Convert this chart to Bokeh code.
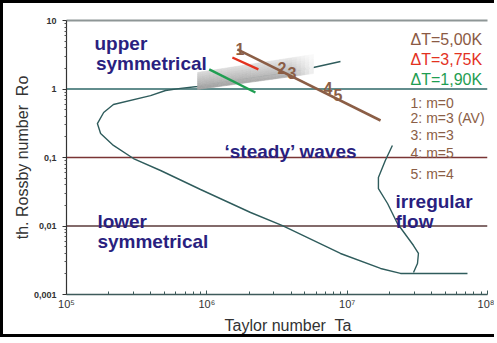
import numpy as np
from bokeh.plotting import figure
from bokeh.models import Span, Label, LogAxis, FixedTicker
from bokeh.embed import file_html
from bokeh.resources import INLINE

# ---- data ----
main_ta = [8.96e6, 5.75e6, 2.22e6, 8.58e5, 6.49e5, 5.08e5, 3.97e5, 2.16e5, 1.84e5,
           1.66e5, 1.75e5, 2.16e5, 3.00e5, 4.68e5, 9.02e5, 2.05e6, 3.46e6, 8.96e6,
           1.73e7, 2.40e7, 7.20e7]
main_ro = [2.52, 2.06, 1.47, 1.09, 1.02, 0.95, 0.80, 0.594, 0.454,
           0.313, 0.224, 0.150, 0.0966, 0.0646, 0.0341, 0.01574, 0.01016, 0.00397,
           0.00240, 0.00203, 0.00203]
irr_ta = [2.10e7, 1.87e7, 1.67e7, 1.67e7, 1.94e7, 2.28e7, 2.97e7, 3.22e7, 3.17e7, 2.97e7]
irr_ro = [0.150, 0.0904, 0.0511, 0.0352, 0.0213, 0.01087, 0.00519, 0.00397, 0.00284, 0.00209]

dt5_ta = [1.65e6, 1.73e7]
dt5_ro = [3.78, 0.347]
dt375_ta = [1.52e6, 2.33e6]
dt375_ro = [2.88, 1.93]
dt19_ta = [1.04e6, 2.22e6]
dt19_ro = [1.93, 0.889]

regime_bounds = [1.0, 0.1, 0.01]
regime_colors = ["#2e6767", "#7a3434", "#5a3a3a"]

wedge_ta = [8.59e5, 5.75e6, 5.75e6, 8.59e5]     # TL, TR, BR, BL
wedge_ro = [1.742, 3.19, 1.683, 0.984]

x_tick_values = [1e5, 1e6, 1e7, 1e8]
x_tick_labels = ["10\u2075", "10\u2076", "10\u2077", "10\u2078"]
y_tick_values = [0.001, 0.01, 0.1, 1, 10]
y_tick_labels = ["0,001", "0,01", "0,1", "1", "10"]

legend_dt = ["\u0394T=5,00K", "\u0394T=3,75K", "\u0394T=1,90K"]
legend_dt_colors = ["#8b5a44", "#e3321f", "#1f9e52"]
legend_modes = ["1: m=0", "2: m=3 (AV)", "3: m=3", "4: m=5", "5: m=4"]

BROWN = "#8b5e46"
NAVY = "#2a1f7f"
FONT = "Liberation Sans"

W, H = 494, 337
p = figure(width=W, height=H, x_axis_type="log", y_axis_type="log",
           x_range=(1e5, 1e8), y_range=(1e-3, 10),
           output_backend="svg", toolbar_location=None,
           min_border_left=63, min_border_right=10, min_border_top=17, min_border_bottom=46)
p.styles = {"border-top": "3px solid black", "border-left": "3px solid black",
            "border-bottom": "3px solid black", "border-right": "none"}
p.outline_line_color = None
p.xgrid.visible = False
p.ygrid.visible = False
p.background_fill_color = "white"
p.border_fill_color = "white"

# axes
xminor = [k * 10.0 ** e for e in range(5, 8) for k in range(2, 10)]
yminor = [k * 10.0 ** e for e in range(-3, 1) for k in range(2, 10)]
p.xaxis.ticker = FixedTicker(ticks=x_tick_values, minor_ticks=xminor)
p.yaxis.ticker = FixedTicker(ticks=y_tick_values, minor_ticks=yminor)
p.xaxis.major_label_overrides = dict(zip(x_tick_values, x_tick_labels))
p.yaxis.major_label_overrides = dict(zip(y_tick_values, y_tick_labels))

ax = p.xaxis[0]
ax.axis_line_color = "#3d5a5a"
ax.axis_line_width = 1.3
ax.major_tick_line_color = "#3d5a5a"
ax.minor_tick_line_color = "#3d5a5a"
ax.major_tick_in = 4
ax.major_tick_out = 0
ax.minor_tick_in = 3
ax.minor_tick_out = 0
ax.major_label_standoff = 3
ax.major_label_text_font = FONT
ax.major_label_text_font_size = "11px"
ax.major_label_text_color = "#333333"
ax.axis_label = "\u00a0" * 5 + "Taylor number\u00a0 Ta"
ax.axis_label_text_font = FONT
ax.axis_label_text_font_size = "16px"
ax.axis_label_text_font_style = "normal"
ax.axis_label_text_color = "#333333"
ax.axis_label_standoff = 4

ay = p.yaxis[0]
ay.axis_line_color = "#333333"
ay.axis_line_width = 1.2
ay.major_tick_line_color = "#333333"
ay.minor_tick_line_color = "#555555"
ay.major_tick_in = 0
ay.major_tick_out = 4
ay.minor_tick_in = 0
ay.minor_tick_out = 2
ay.major_label_standoff = 6
ay.major_label_text_font = FONT
ay.major_label_text_font_size = "9px"
ay.major_label_text_font_style = "bold"
ay.major_label_text_color = "#333333"
ay.axis_label = "th. Rossby number\u00a0 Ro"
ay.axis_label_text_font = FONT
ay.axis_label_text_font_size = "16px"
ay.axis_label_text_font_style = "normal"
ay.axis_label_text_color = "#333333"
ay.axis_label_standoff = 0

top = LogAxis(ticker=FixedTicker(ticks=[]), axis_line_color="#8e9696", axis_line_width=2.2)
p.add_layout(top, "above")

# regime boundaries
for b, c in zip(regime_bounds, regime_colors):
    p.add_layout(Span(location=b, dimension="width", line_color=c, line_width=1.3, level="underlay"))

# curves
p.line(main_ta, main_ro, line_color="#2f5c5c", line_width=1.4)
p.line(irr_ta, irr_ro, line_color="#2f5c5c", line_width=1.4)

# grey wedge with a shaded gradient
L = np.log10(np.array(wedge_ta))
M = np.log10(np.array(wedge_ro))
nu, nv = 28, 8
xs, ys, cols = [], [], []
def pt(u, v):
    tx = L[0] + (L[1] - L[0]) * u
    ty = M[0] + (M[1] - M[0]) * u
    bx = L[3] + (L[2] - L[3]) * u
    by = M[3] + (M[2] - M[3]) * u
    return tx + (bx - tx) * v, ty + (by - ty) * v
for i in range(nu):
    for j in range(nv):
        u0, u1 = i / nu, (i + 1) / nu
        v0, v1 = j / nv, (j + 1) / nv
        corners = [pt(u0, v0), pt(u1, v0), pt(u1, v1), pt(u0, v1)]
        xs.append([10 ** c[0] for c in corners])
        ys.append([10 ** c[1] for c in corners])
        um, vm = (u0 + u1) / 2, (v0 + v1) / 2
        g = 236 - 58 * vm - 18 * (1 - um)
        if um > 0.8:
            g = g + (255 - g) * (um - 0.8) / 0.2 * 0.85
        g = int(max(0, min(255, g)))
        cols.append("#%02x%02x%02x" % (g, g, g))
p.patches(xs, ys, fill_color=cols, line_color=cols, line_width=0.6)

# Delta T lines
p.line(dt5_ta, dt5_ro, line_color=BROWN, line_width=2.6)
p.line(dt375_ta, dt375_ro, line_color="#e3321f", line_width=2.4)
p.line(dt19_ta, dt19_ro, line_color="#1f9e52", line_width=2.4)

def lab(text, x, y, color, size, style="normal"):
    p.add_layout(Label(x=x, y=y, text=text, text_color=color, text_font=FONT,
                       text_font_size=size, text_font_style=style,
                       text_align="left", text_baseline="alphabetic"))

# regime labels
lab("upper", 1.583e5, 4.61, NAVY, "19px", "bold")
lab("symmetrical", 1.62e5, 2.36, NAVY, "19px", "bold")
lab("\u2018steady\u2019 waves", 1.336e6, 0.1225, NAVY, "19px", "bold")
lab("lower", 1.66e5, 0.01164, NAVY, "19px", "bold")
lab("symmetrical", 1.66e5, 0.00594, NAVY, "19px", "bold")
lab("irregular", 2.21e7, 0.0228, NAVY, "19px", "bold")
lab("flow", 2.21e7, 0.01164, NAVY, "19px", "bold")

# numbers on the brown line
for t, x, y in zip(["1", "2", "3", "4", "5"],
                   [1.60e6, 3.19e6, 3.76e6, 6.78e6, 7.99e6],
                   [3.90, 2.06, 1.741, 1.017, 0.804]):
    lab(t, x, y, BROWN, "16px", "bold")

# legend texts
for t, c, y in zip(legend_dt, legend_dt_colors, [5.28, 2.697, 1.376]):
    lab(t, 2.83e7, y, c, "16px")
for t, y in zip(legend_modes, [0.635, 0.371, 0.2095, 0.1183, 0.0565]):
    lab(t, 2.83e7, y, BROWN, "14px")

open("out.html", "w").write(file_html(p, INLINE))
